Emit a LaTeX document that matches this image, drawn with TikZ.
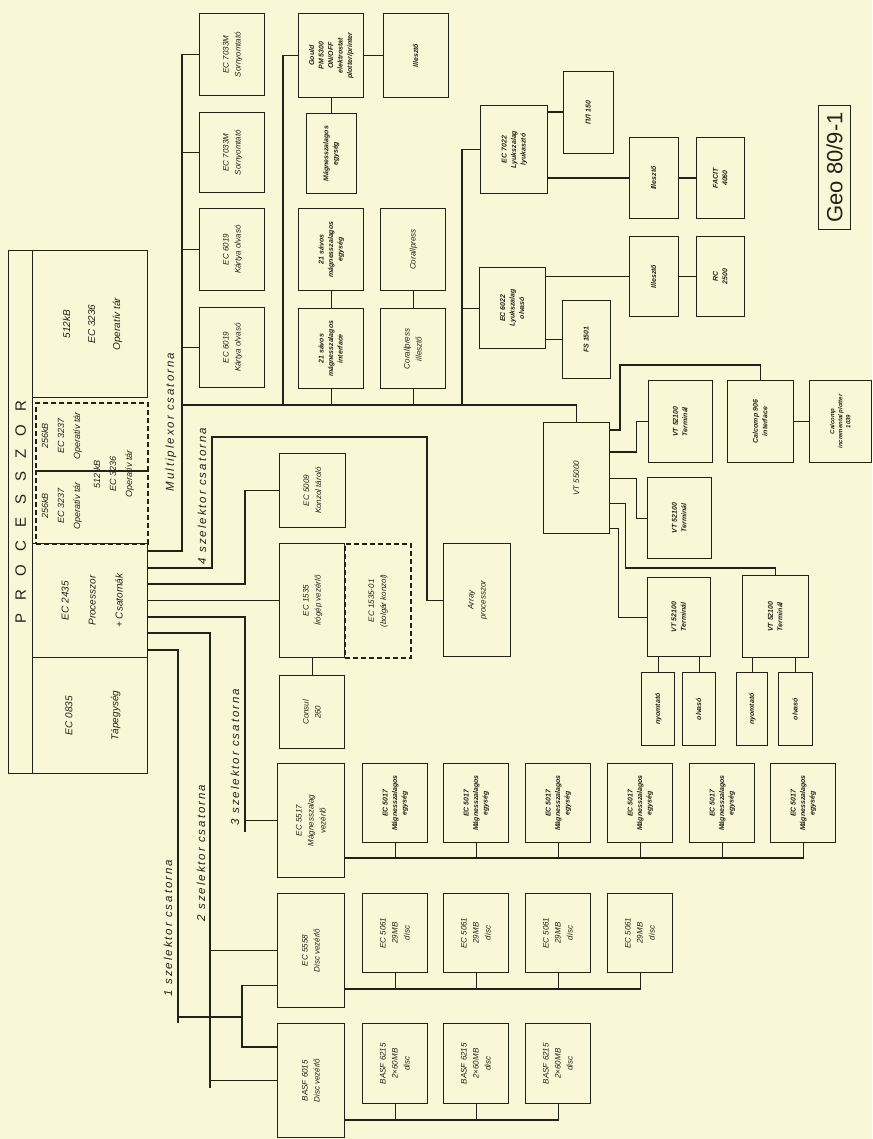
\documentclass[tikz,border=0pt]{standalone}
\usepackage{fontspec}
\setmainfont{Liberation Sans}
\usepackage{graphicx}
\usetikzlibrary{positioning}
\definecolor{paper}{HTML}{FAF7D6}
\definecolor{ink}{HTML}{22211C}
\newcommand{\uptext}[1]{\rotatebox{90}{\begin{tabular}{@{}c@{}}#1\end{tabular}}}
\tikzset{
  unit/.style={draw=ink,line width=1.2pt,anchor=north west,inner sep=1pt,text=ink,
    font=\itshape\fontsize{8}{12}\selectfont},
  sz/.style 2 args={minimum width=#1,minimum height=#2},
  small/.style={font=\bfseries\itshape\fontsize{7}{9.5}\selectfont},
  tiny/.style={font=\bfseries\itshape\fontsize{6}{8}\selectfont},
  option/.style={unit,dash pattern=on 5pt off 3pt,line width=1.6pt},
  memtext/.style={text=ink,inner sep=0pt,font=\itshape\fontsize{9}{16}\selectfont},
  chan/.style={text=ink,inner sep=0pt,font=\itshape\fontsize{11.5}{12}\selectfont\addfontfeature{LetterSpace=17}},
  wire/.style={draw=ink,line width=1.2pt}
}

\begin{document}
\begin{tikzpicture}[x=1pt,y=-1pt]
  \fill[paper] (0,0) rectangle (872,1139);
  \useasboundingbox (0,0) rectangle (872,1139);

  \node[unit,sz={24}{523},font=\fontsize{15}{15}\selectfont] (title) at (8,250)
    {\rotatebox{90}{P\hspace{13pt}R\hspace{13pt}O\hspace{13pt}C\hspace{13pt}E\hspace{13pt}S\hspace{13pt}S\hspace{13pt}Z\hspace{13pt}O\hspace{13pt}R}};
  \node[unit,sz={115}{147},font=\itshape\fontsize{10}{25}\selectfont] (mem) at (32,250) {\uptext{512kB\\EC 3236\\Operatív tár}};
  \node[option,sz={112}{68}] (opt1) at (35,402) {};
  \node[option,sz={112}{73}] (opt2) at (35,470) {};
  \node[memtext] (m3237a) at (61,436) {\uptext{256kB\\EC 3237\\Operatív tár}};
  \node[memtext] (m3237b) at (61,506) {\uptext{256kB\\EC 3237\\Operatív tár}};
  \node[memtext] (m3236) at (113,474) {\uptext{512 kB\\EC 3236\\Operatív tár}};
  \node[unit,sz={115}{114},font=\itshape\fontsize{10}{27}\selectfont] (cpu) at (32,543) {\uptext{EC 2435\\Processzor\\+ Csatornák}};
  \node[unit,sz={115}{116},font=\itshape\fontsize{10}{26}\selectfont] (psu) at (32,657) {\uptext{EC 0835\\[20pt]Tápegység}};

  \node[unit,sz={65}{82}] (lp1) at (199,13) {\uptext{EC 7033M\\Sornyomtató}};
  \node[unit,sz={65}{80}] (lp2) at (199,112) {\uptext{EC 7033M\\Sornyomtató}};
  \node[unit,sz={65}{82}] (cr1) at (199,208) {\uptext{EC 6019\\Kártya olvasó}};
  \node[unit,sz={65}{80}] (cr2) at (199,307) {\uptext{EC 6019\\Kártya olvasó}};

  \node[unit,small,sz={65}{84}] (gould) at (298,13) {\uptext{Gould\\PM 5300\\ON/OFF\\elektrostat\\plotter/printer}};
  \node[unit,small,sz={65}{84},right=19pt of gould] (gill) {\uptext{Illesztő}};
  \node[unit,small,sz={50}{80},below=15pt of gould] (gmag) {\uptext{Mágnesszalagos\\egység}};
  \node[unit,small,sz={65}{82}] (t21e) at (298,208) {\uptext{21 sávos\\mágnesszalagos\\egység}};
  \node[unit,small,sz={65}{80},below=17pt of t21e] (t21i) {\uptext{21 sávos\\mágnesszalagos\\interface}};
  \node[unit,sz={65}{82}] (cor) at (380,208) {\uptext{Corallpress}};
  \node[unit,sz={65}{80},below=17pt of cor] (corill) {\uptext{Corallpress\\illesztő}};

  \node[unit,small,sz={67}{88}] (p7022) at (480,105) {\uptext{EC 7022\\Lyukszalag\\lyukasztó}};
  \node[unit,small,sz={50}{82}] (pl150) at (563,71) {\uptext{ПЛ 150}};
  \node[unit,small,sz={49}{81}] (ill1) at (629,137) {\uptext{Illesztő}};
  \node[unit,small,sz={48}{81},right=17pt of ill1] (facit) {\uptext{FACIT\\4060}};
  \node[unit,small,sz={66}{81}] (p6022) at (479,267) {\uptext{EC 6022\\Lyukszalag\\olvasó}};
  \node[unit,small,sz={49}{80}] (ill2) at (629,236) {\uptext{Illesztő}};
  \node[unit,small,sz={48}{80},right=17pt of ill2] (rc) {\uptext{RC\\2500}};
  \node[unit,small,sz={48}{78}] (fs) at (562,300) {\uptext{FS 1501}};

  \node[unit,sz={66}{111}] (vt55) at (543,422) {\uptext{VT 55000}};
  \node[unit,small,sz={64}{82}] (vt1) at (648,380) {\uptext{VT 52100\\Terminál}};
  \node[unit,small,sz={66}{82}] (cal906) at (727,380) {\uptext{Calcomp 906\\interface}};
  \node[unit,tiny,sz={62}{82},right=15pt of cal906] (cal1039) {\uptext{Calcomp\\incremental plotter\\1039}};
  \node[unit,small,sz={64}{81}] (vt2) at (647,477) {\uptext{VT 52100\\Terminál}};
  \node[unit,small,sz={63}{79}] (vt3) at (647,577) {\uptext{VT 52100\\Terminál}};
  \node[unit,small,sz={66}{82}] (vt4) at (742,575) {\uptext{VT 52100\\Terminál}};
  \node[unit,small,sz={33}{73}] (ny3) at (641,672) {\uptext{nyomtató}};
  \node[unit,small,sz={33}{73}] (ol3) at (682,672) {\uptext{olvasó}};
  \node[unit,small,sz={31}{73}] (ny4) at (736,672) {\uptext{nyomtató}};
  \node[unit,small,sz={34}{73}] (ol4) at (778,672) {\uptext{olvasó}};

  \node[unit,sz={66}{74}] (ec5009) at (279,453) {\uptext{EC 5009\\Konzol tároló}};
  \node[unit,sz={65}{114}] (ec1535) at (279,543) {\uptext{EC 1535\\Írógép vezérlő}};
  \node[option,sz={66}{114}] (ec153501) at (344,543) {\uptext{EC 1535-01\\(bolgár konzol)}};
  \node[unit,sz={65}{73},below=17pt of ec1535] (consul) {\uptext{Consul\\260}};
  \node[unit,sz={67}{113}] (array) at (443,543) {\uptext{Array\\processzor}};

  \node[unit,sz={67}{114}] (ec5517) at (277,763) {\uptext{EC 5517\\Mágnesszalag\\vezérlő}};
  \node[unit,sz={67}{114}] (ec5558) at (277,893) {\uptext{EC 5558\\Disc vezérlő}};
  \node[unit,sz={67}{114}] (basf) at (277,1023) {\uptext{BASF 6015\\Disc vezérlő}};
  \foreach \i/\x in {1/362,2/443,3/525,4/607,5/689,6/770}
    \node[unit,small,sz={65}{79}] (mt\i) at (\x,763) {\uptext{EC 5017\\Mágnesszalagos\\egység}};
  \foreach \i/\x in {1/362,2/443,3/525,4/607}
    \node[unit,sz={65}{79}] (dk\i) at (\x,893) {\uptext{EC 5061\\29MB\\disc}};
  \foreach \i/\x in {1/362,2/443,3/525}
    \node[unit,sz={65}{80}] (bd\i) at (\x,1023) {\uptext{BASF 6215\\2×60MB\\disc}};

  \node[draw=ink,line width=0.9pt,sz={32}{124},anchor=north west,inner sep=0pt,text=ink,
    font=\fontsize{22}{22}\selectfont] (geo) at (818,105) {\rotatebox{90}{Geo 80/9-1}};

  \coordinate (mux) at (182,551);
  \coordinate (mxr) at (182,405);
  \coordinate (gbus) at (283,405);
  \coordinate (pbus) at (462,405);
  \draw[wire] (cpu.east |- mux) -- (mux) -- (mux |- lp1.west) -- (lp1.west);
  \foreach \n in {lp2,cr1,cr2} \draw[wire] (mux |- \n.west) -- (\n.west);
  \draw[wire] (mxr) -| (vt55.north);
  \draw[wire] (gbus) |- (gould.west);
  \draw[wire] (gould.east) -- (gill.west);
  \draw[wire] (gould.south) -- (gmag.north);
  \draw[wire] (t21e.south) -- (t21i.north);
  \draw[wire] (cor.south) -- (corill.north);
  \draw[wire] (t21i.south) -- (t21i.south |- mxr);
  \draw[wire] (corill.south) -- (corill.south |- mxr);

  \draw[wire] (pbus) |- (p7022.west);
  \draw[wire] (pbus |- p6022.west) -- (p6022.west);
  \coordinate (k1) at ([yshift=-7pt]p7022.north east);
  \draw[wire] (k1) -- (k1 -| pl150.west);
  \draw[wire] (p7022.east |- ill1.west) -- (ill1.west);
  \draw[wire] (ill1.east) -- (facit.west);
  \draw[wire] (p6022.east |- ill2.west) -- (ill2.west);
  \draw[wire] (ill2.east) -- (rc.west);
  \draw[wire] (fs.west) -- (fs.west -| p6022.east);

  \coordinate (k2) at ([yshift=-8pt]vt55.north east);
  \coordinate (jc) at (620,365);
  \draw[wire] (k2) -| (jc) -| (cal906.north);
  \draw[wire] (cal906.east) -- (cal1039.west);
  \coordinate (k3) at ([yshift=-30pt]vt55.north east);
  \draw[wire] (k3) -- ++(26,0) |- (vt1.west);
  \draw[wire] (vt55.east) -- ++(26,0) |- (vt2.west);
  \coordinate (k5) at ([yshift=-25pt]vt55.east);
  \draw[wire] (k5) -- ++(15,0) |- ([yshift=7pt]vt4.north) -- (vt4.north);
  \coordinate (k6) at ([yshift=6pt]vt55.south east);
  \draw[wire] (k6) -- ++(8,0) |- (vt3.west);
  \draw[wire] (ny3.north) -- (ny3.north |- vt3.south);
  \draw[wire] (ol3.north) -- (ol3.north |- vt3.south);
  \draw[wire] (ny4.north) -- (ny4.north |- vt4.south);
  \draw[wire] (ol4.north) -- (ol4.north |- vt4.south);

  \coordinate (s4) at (212,568);
  \coordinate (s4r) at (427,437);
  \draw[wire] (cpu.east |- s4) -- (s4) -- (s4 |- s4r) -- (s4r) |- (array.west);
  \coordinate (c5) at (245,584);
  \draw[wire] (cpu.east |- c5) -- (c5) |- (ec5009.west);
  \draw[wire] (cpu.east |- ec1535.west) -- (ec1535.west);
  \draw[wire] (ec1535.south) -- (consul.north);

  \coordinate (s3) at (245,617);
  \coordinate (s3end) at (245,832);
  \draw[wire] (cpu.east |- s3) -- (s3) -- (s3end);
  \draw[wire] (s3 |- ec5517.west) -- (ec5517.west);

  \coordinate (s2) at (210,633);
  \coordinate (s2end) at (210,1088);
  \draw[wire] (cpu.east |- s2) -- (s2) -- (s2end);
  \draw[wire] (s2 |- ec5558.west) -- (ec5558.west);
  \draw[wire] (s2 |- basf.west) -- (basf.west);

  \coordinate (s1) at (178,650);
  \coordinate (s1end) at (178,1023);
  \coordinate (f1) at (242,1017);
  \coordinate (f1a) at ([yshift=23pt]ec5558.south west);
  \coordinate (f1b) at ([yshift=-24pt]basf.north west);
  \draw[wire] (cpu.east |- s1) -- (s1) -- (s1end);
  \draw[wire] (s1 |- f1) -- (f1);
  \draw[wire] (f1a) -- (f1a -| f1) -- (f1b -| f1) -- (f1b);

  \coordinate (mtbus) at (0,858);
  \draw[wire] (ec5517.east |- mtbus) -| (mt6.south);
  \foreach \i in {1,...,5} \draw[wire] (mt\i.south) -- (mt\i.south |- mtbus);
  \coordinate (dkbus) at (0,989);
  \draw[wire] (ec5558.east |- dkbus) -| (dk4.south);
  \foreach \i in {1,...,3} \draw[wire] (dk\i.south) -- (dk\i.south |- dkbus);
  \coordinate (bdbus) at (0,1120);
  \draw[wire] (basf.east |- bdbus) -| (bd3.south);
  \foreach \i in {1,2} \draw[wire] (bd\i.south) -- (bd\i.south |- bdbus);

  \node[chan] (lmux) at (171,422) {\rotatebox{90}{Multiplexor csatorna}};
  \node[chan] (lsel4) at (202,496) {\rotatebox{90}{4 szelektor csatorna}};
  \node[chan] (lsel3) at (235,757) {\rotatebox{90}{3 szelektor csatorna}};
  \node[chan] (lsel2) at (201,853) {\rotatebox{90}{2 szelektor csatorna}};
  \node[chan] (lsel1) at (168,928) {\rotatebox{90}{1 szelektor csatorna}};
\end{tikzpicture}
\end{document}
